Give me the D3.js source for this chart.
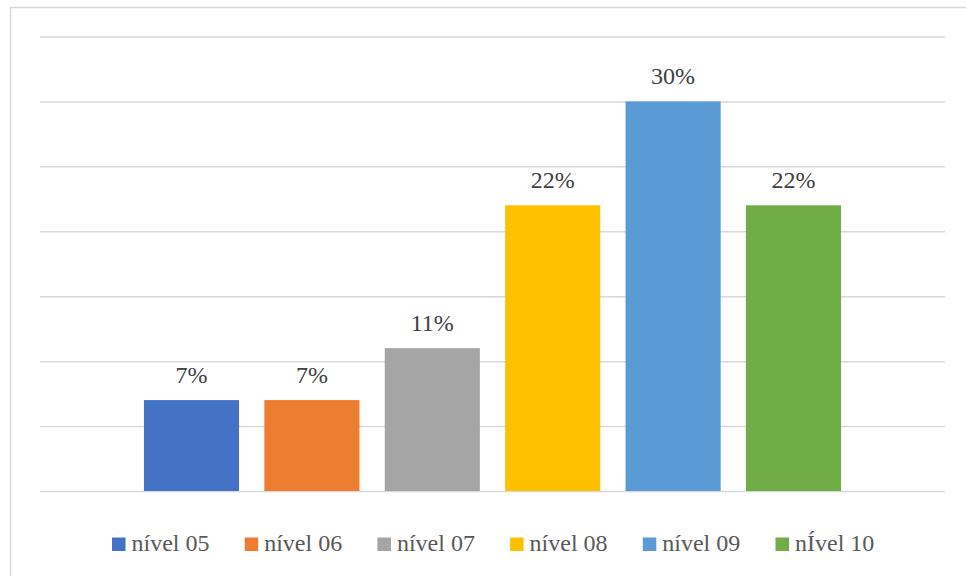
<!DOCTYPE html>
<html>
<head>
<meta charset="utf-8">
<script src="https://cdn.jsdelivr.net/npm/d3@7"></script>
<style>
  html, body { margin: 0; padding: 0; background: #ffffff; }
  svg { display: block; }
  text { font-family: "Liberation Serif", "Times New Roman", Times, "DejaVu Serif", serif; }
</style>
</head>
<body>
<svg id="chart" width="966" height="576"></svg>
<script>
// Share of respondents per level
const categories = ["nível 05", "nível 06", "nível 07", "nível 08", "nível 09", "nÍvel 10"];
const values = [0.07, 0.07, 0.11, 0.22, 0.30, 0.22];
const colors = ["#4472C4", "#ED7D31", "#A5A5A5", "#FFC000", "#5B9BD5", "#70AD47"];
const gridTicks = [0, 0.05, 0.10, 0.15, 0.20, 0.25, 0.30, 0.35];

const svg = d3.select("#chart");
const W = 966, H = 576;

// chart frame
svg.append("rect")
  .attr("x", 10.5).attr("y", 7.5)
  .attr("width", W + 20).attr("height", H + 20)
  .attr("fill", "#ffffff")
  .attr("stroke", "#D9D9D9")
  .attr("stroke-width", 1.5);

const plot = { left: 40, right: 945, top: 36.5, bottom: 491 };

const y = d3.scaleLinear()
  .domain([0, 0.35])
  .range([plot.bottom, plot.top]);

const x = d3.scaleBand()
  .domain(categories)
  .range([131.3, 853.7])
  .paddingInner(0.21)
  .paddingOuter(0.105);

// horizontal gridlines
const grid = svg.append("g")
  .attr("transform", `translate(${plot.left},0)`)
  .call(d3.axisLeft(y)
    .tickValues(gridTicks)
    .tickSize(-(plot.right - plot.left))
    .tickFormat(""));
grid.select(".domain").remove();
grid.selectAll(".tick line")
  .attr("stroke", "#D9D9D9")
  .attr("stroke-width", 1.5);

// bars
svg.append("g").selectAll("rect")
  .data(categories)
  .join("rect")
  .attr("x", d => x(d))
  .attr("y", (d, i) => y(values[i]))
  .attr("width", x.bandwidth())
  .attr("height", (d, i) => y(0) - y(values[i]))
  .attr("fill", (d, i) => colors[i]);

// value labels
const fmt = d3.format(".0%");
svg.append("g").selectAll("text")
  .data(categories)
  .join("text")
  .attr("x", d => x(d) + x.bandwidth() / 2)
  .attr("y", (d, i) => y(values[i]) - 17)
  .attr("text-anchor", "middle")
  .style("font-size", "24px")
  .attr("fill", "#404040")
  .text((d, i) => fmt(values[i]));

// legend
const legendX0 = 112, legendStep = 132.7, legendY = 551;
const legend = svg.append("g").selectAll("g")
  .data(categories)
  .join("g")
  .attr("transform", (d, i) => `translate(${legendX0 + i * legendStep},${legendY})`);
legend.append("rect")
  .attr("x", 0).attr("y", -13.5)
  .attr("width", 13.5).attr("height", 13.5)
  .attr("fill", (d, i) => colors[i]);
legend.append("text")
  .attr("x", 19.5).attr("y", 0)
  .style("font-size", "24px")
  .attr("fill", "#595959")
  .text(d => d);
</script>
</body>
</html>
